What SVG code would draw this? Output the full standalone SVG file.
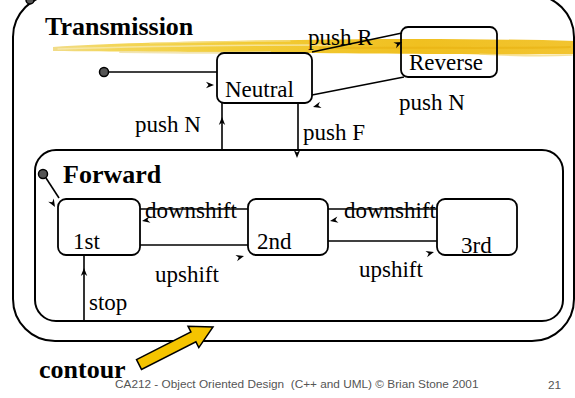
<svg xmlns="http://www.w3.org/2000/svg" width="575" height="398" viewBox="0 0 575 398">
<style>
.frame{fill:none;stroke:#000;stroke-width:2}
.box{fill:none;stroke:#000;stroke-width:1.8}
.ln{fill:none;stroke:#000;stroke-width:1.6}
.t{font-family:"Liberation Serif","Times New Roman",serif;font-size:23px;fill:#000}
.b{font-family:"Liberation Serif","Times New Roman",serif;font-size:26px;font-weight:bold;fill:#000}
.f{font-family:"Liberation Sans",Arial,sans-serif;font-size:11.8px;fill:#555}
.dot{fill:#555;stroke:#000;stroke-width:1.5}
.st{fill:none;stroke-linecap:round}
</style>
<defs>
<linearGradient id="hl" x1="0" y1="0" x2="1" y2="0">
<stop offset="0" stop-color="#f1dc8a"/>
<stop offset="0.12" stop-color="#f3d658"/>
<stop offset="0.35" stop-color="#f2cc38"/>
<stop offset="0.7" stop-color="#f0c020"/>
<stop offset="1" stop-color="#f2c430"/>
</linearGradient>
<path id="ah" d="M0,0 L-8,-3.2 L-5.5,0 L-8,3.2 Z" fill="#000"/>
</defs>
<rect width="575" height="398" fill="#fff"/>
<g id="highlight">
<path d="M53,47 C110,43 200,41 300,40 C400,38 500,39 575,41 L575,54 C500,55 420,54 300,53 C220,52 120,52 53,51 Z" fill="url(#hl)"/>
<path class="st" d="M58,49 C150,46 240,45 330,45" stroke="#f8eab0" stroke-width="1.4" opacity="0.8"/>
<path class="st" d="M120,52 C180,53 230,53 270,52" stroke="#efdfa0" stroke-width="2" opacity="0.8"/>
<path class="st" d="M150,43 C200,42 250,41 290,41" stroke="#f6e7a6" stroke-width="1.2" opacity="0.7"/>
<path class="st" d="M320,48 C420,47 500,49 570,47" stroke="#e8b010" stroke-width="2" opacity="0.6"/>
<path class="st" d="M480,54 C520,56 550,56 572,55" stroke="#f2d570" stroke-width="1.5" opacity="0.7"/>
</g>
<g id="transmission">
<rect class="frame" x="13" y="-5" width="561" height="346" rx="42" ry="42"/>
<circle class="dot" cx="30" cy="0" r="4"/>
<text class="b" x="45" y="35">Transmission</text>
</g>
<g id="forward">
<rect class="frame" x="35" y="150" width="528" height="171" rx="21" ry="21"/>
<circle class="dot" cx="43" cy="174" r="4.5"/>
<text class="b" x="63" y="183">Forward</text>
</g>
<g id="init">
<circle class="dot" cx="104" cy="72" r="4.5"/>
</g>
<g id="neutral">
<rect class="box" x="217" y="53" width="95" height="50" rx="7" ry="7"/>
<text class="t" x="225" y="97">Neutral</text>
</g>
<g id="reverse">
<rect class="box" x="401" y="27" width="96" height="50" rx="7" ry="7"/>
<text class="t" x="409" y="70">Reverse</text>
</g>
<g id="first">
<rect class="box" x="58" y="199" width="82" height="56" rx="8" ry="8"/>
<text class="t" x="73" y="249">1st</text>
</g>
<g id="second">
<rect class="box" x="248" y="199" width="80" height="56" rx="8" ry="8"/>
<text class="t" x="257" y="249">2nd</text>
</g>
<g id="third">
<rect class="box" x="437" y="199" width="80" height="56" rx="8" ry="8"/>
<text class="t" x="461" y="253">3rd</text>
</g>
<g id="connectors">
<line class="ln" x1="108" y1="72" x2="217" y2="72"/>
<use href="#ah" transform="translate(214,85)"/>
<line class="ln" x1="222" y1="150" x2="222" y2="103"/>
<use href="#ah" transform="translate(222,117) rotate(-90)"/>
<line class="ln" x1="312" y1="52" x2="402" y2="33"/>
<use href="#ah" transform="translate(402,42) rotate(-25)"/>
<line class="ln" x1="404" y1="77" x2="312" y2="95"/>
<use href="#ah" transform="translate(313,107) rotate(165)"/>
<line class="ln" x1="298" y1="103" x2="298" y2="150"/>
<use href="#ah" transform="translate(297,158) rotate(90)"/>
<line class="ln" x1="46" y1="178" x2="59" y2="198"/>
<use href="#ah" transform="translate(55,207) rotate(60)"/>
<line class="ln" x1="248" y1="209" x2="140" y2="209"/>
<use href="#ah" transform="translate(142,221) rotate(170)"/>
<line class="ln" x1="140" y1="245" x2="248" y2="245"/>
<use href="#ah" transform="translate(244,256) rotate(-15)"/>
<line class="ln" x1="437" y1="209" x2="328" y2="209"/>
<use href="#ah" transform="translate(330,221) rotate(170)"/>
<line class="ln" x1="328" y1="241" x2="437" y2="241"/>
<use href="#ah" transform="translate(434,252) rotate(-15)"/>
<line class="ln" x1="84" y1="321" x2="84" y2="255"/>
<use href="#ah" transform="translate(84,268) rotate(-90)"/>
</g>
<g id="labels">
<text class="t" x="308" y="45">push R</text>
<text class="t" x="135" y="132">push N</text>
<text class="t" x="399" y="110">push N</text>
<text class="t" x="303" y="140">push F</text>
<text class="t" x="145" y="218">downshift</text>
<text class="t" x="344" y="218">downshift</text>
<text class="t" x="155" y="282">upshift</text>
<text class="t" x="359" y="277">upshift</text>
<text class="t" x="89" y="310">stop</text>
</g>
<g id="contour">
<polygon points="136.5,359.6 190.9,332 188,326.2 213,327 198.8,347.6 195.9,341.8 141.5,369.4" fill="#f5c400" stroke="#000" stroke-width="1.5" stroke-linejoin="miter"/>
<text class="b" x="39" y="378">contour</text>
</g>
<g id="footer">
<text class="f" x="115" y="388" xml:space="preserve">CA212 - Object Oriented Design  (C++ and UML) © Brian Stone 2001</text>
<text class="f" x="548" y="389">21</text>
</g>
</svg>
